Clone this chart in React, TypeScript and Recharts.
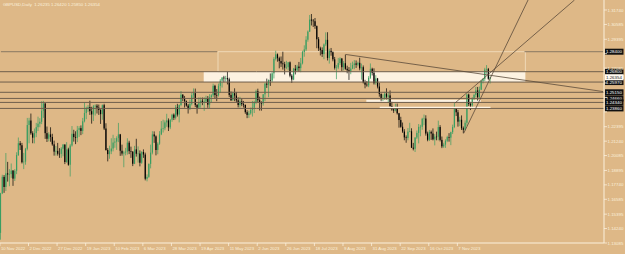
import React from 'react';
import { ComposedChart, Bar, XAxis, YAxis, ReferenceLine, ReferenceArea } from 'recharts';

// ---------- data (GBPUSD, Daily) ----------
const firstOpen = 1.139;

const closes = [
  1.1706, 1.1838, 1.1757, 1.1866, 1.1857, 1.1860, 1.1888, 1.1824, 1.1887, 1.2013,
  1.2107, 1.2091, 1.1955, 1.1960, 1.2063, 1.2253, 1.2289, 1.2187, 1.2152, 1.2188,
  1.2236, 1.2264, 1.2279, 1.2367, 1.2426, 1.2188, 1.2143, 1.2178, 1.2157, 1.2098,
  1.2040, 1.2046, 1.2023, 1.2022, 1.2063, 1.2097, 1.1957, 1.2058, 1.1935, 1.2089,
  1.2183, 1.2156, 1.2150, 1.2214, 1.2228, 1.2206, 1.2283, 1.2349, 1.2390, 1.2397,
  1.2364, 1.2338, 1.2402, 1.2408, 1.2392, 1.2374, 1.2340, 1.2412, 1.2225, 1.2053,
  1.2020, 1.2042, 1.2065, 1.2113, 1.2120, 1.2148, 1.2178, 1.2047, 1.2025, 1.2033,
  1.2040, 1.2112, 1.2044, 1.2039, 1.1943, 1.2058, 1.2023, 1.2025, 1.1951, 1.2037,
  1.2017, 1.1823, 1.1838, 1.1942, 1.2032, 1.2178, 1.2162, 1.2053, 1.2104, 1.2178,
  1.2224, 1.2227, 1.2274, 1.2290, 1.2234, 1.2295, 1.2336, 1.2311, 1.2394, 1.2337,
  1.2413, 1.2496, 1.2464, 1.2444, 1.2409, 1.2382, 1.2423, 1.2492, 1.2508, 1.2414,
  1.2392, 1.2430, 1.2448, 1.2434, 1.2442, 1.2463, 1.2416, 1.2477, 1.2491, 1.2567,
  1.2493, 1.2492, 1.2567, 1.2608, 1.2633, 1.2626, 1.2629, 1.2619, 1.2494, 1.2451,
  1.2508, 1.2489, 1.2451, 1.2413, 1.2443, 1.2420, 1.2414, 1.2356, 1.2334, 1.2346,
  1.2374, 1.2392, 1.2434, 1.2525, 1.2452, 1.2436, 1.2425, 1.2499, 1.2584, 1.2576,
  1.2613, 1.2610, 1.2667, 1.2782, 1.2819, 1.2788, 1.2765, 1.2746, 1.2740, 1.2712,
  1.2716, 1.2755, 1.2648, 1.2617, 1.2704, 1.2690, 1.2721, 1.2709, 1.2747, 1.2838,
  1.2858, 1.2936, 1.3001, 1.3097, 1.3089, 1.3084, 1.3045, 1.2940, 1.2867, 1.2853,
  1.2821, 1.2898, 1.2935, 1.2790, 1.2847, 1.2836, 1.2779, 1.2711, 1.2714, 1.2749,
  1.2785, 1.2716, 1.2748, 1.2703, 1.2692, 1.2685, 1.2705, 1.2733, 1.2746, 1.2736,
  1.2751, 1.2707, 1.2716, 1.2595, 1.2576, 1.2571, 1.2631, 1.2703, 1.2671, 1.2588,
  1.2626, 1.2561, 1.2502, 1.2466, 1.2466, 1.2504, 1.2480, 1.2490, 1.2405, 1.2378,
  1.2369, 1.2393, 1.2347, 1.2293, 1.2239, 1.2201, 1.2154, 1.2149, 1.2200, 1.2203,
  1.2072, 1.2063, 1.2153, 1.2190, 1.2238, 1.2239, 1.2303, 1.2305, 1.2185, 1.2135,
  1.2198, 1.2185, 1.2138, 1.2160, 1.2159, 1.2237, 1.2134, 1.2082, 1.2096, 1.2127,
  1.2157, 1.2152, 1.2196, 1.2237, 1.2381, 1.2355, 1.2280, 1.2295, 1.2227, 1.2215,
  1.2271, 1.2497, 1.2421, 1.2410, 1.2462, 1.2494, 1.2530, 1.2476, 1.2536, 1.2606,
  1.2622, 1.2697, 1.2700, 1.26235, 1.26354,
];

const highs = [
  1.1710, 1.1855, 1.1853, 1.2029, 1.1958, 1.1900, 1.1945, 1.1893, 1.1900, 1.2035,
  1.2153, 1.2125, 1.2110, 1.2030, 1.2070, 1.2310, 1.2311, 1.2345, 1.2203, 1.2225,
  1.2270, 1.2320, 1.2308, 1.2443, 1.2446, 1.2428, 1.2241, 1.2195, 1.2235, 1.2183,
  1.2128, 1.2085, 1.2110, 1.2068, 1.2076, 1.2100, 1.2098, 1.2116, 1.2071, 1.2102,
  1.2245, 1.2215, 1.2203, 1.2246, 1.2244, 1.2250, 1.2310, 1.2434, 1.2400, 1.2413,
  1.2448, 1.2399, 1.2414, 1.2418, 1.2420, 1.2417, 1.2380, 1.2418, 1.2423, 1.2267,
  1.2068, 1.2088, 1.2147, 1.2175, 1.2149, 1.2163, 1.2270, 1.2182, 1.2096, 1.2047,
  1.2070, 1.2147, 1.2127, 1.2080, 1.2045, 1.2086, 1.2143, 1.2082, 1.2050, 1.2044,
  1.2058, 1.2032, 1.1858, 1.1945, 1.2096, 1.2204, 1.2202, 1.2170, 1.2115, 1.2204,
  1.2285, 1.2296, 1.2290, 1.2343, 1.2306, 1.2300, 1.2343, 1.2346, 1.2413, 1.2423,
  1.2418, 1.2525, 1.2500, 1.2486, 1.2450, 1.2422, 1.2457, 1.2509, 1.2546, 1.2545,
  1.2422, 1.2474, 1.2474, 1.2473, 1.2475, 1.2488, 1.2485, 1.2500, 1.2500, 1.2584,
  1.2575, 1.2541, 1.2585, 1.2621, 1.2636, 1.2647, 1.2647, 1.2680, 1.2632, 1.2522,
  1.2520, 1.2547, 1.2518, 1.2475, 1.2479, 1.2466, 1.2446, 1.2417, 1.2372, 1.2367,
  1.2393, 1.2446, 1.2447, 1.2536, 1.2544, 1.2480, 1.2443, 1.2501, 1.2591, 1.2625,
  1.2618, 1.2666, 1.2677, 1.2797, 1.2848, 1.2826, 1.2800, 1.2802, 1.2840, 1.2759,
  1.2767, 1.2758, 1.2762, 1.2660, 1.2710, 1.2734, 1.2735, 1.2758, 1.2790, 1.2848,
  1.2891, 1.2964, 1.3010, 1.3134, 1.3142, 1.3102, 1.3110, 1.3050, 1.2957, 1.2880,
  1.2875, 1.2906, 1.2995, 1.2996, 1.2864, 1.2870, 1.2842, 1.2798, 1.2734, 1.2790,
  1.2796, 1.2790, 1.2765, 1.2818, 1.2728, 1.2717, 1.2751, 1.2761, 1.2773, 1.2770,
  1.2760, 1.2792, 1.2745, 1.2730, 1.2615, 1.2605, 1.2645, 1.2746, 1.2712, 1.2707,
  1.2652, 1.2630, 1.2590, 1.2506, 1.2498, 1.2519, 1.2547, 1.2515, 1.2530, 1.2439,
  1.2394, 1.2424, 1.2425, 1.2350, 1.2319, 1.2273, 1.2220, 1.2170, 1.2229, 1.2271,
  1.2227, 1.2110, 1.2155, 1.2209, 1.2261, 1.2255, 1.2311, 1.2337, 1.2331, 1.2200,
  1.2214, 1.2209, 1.2226, 1.2180, 1.2200, 1.2288, 1.2252, 1.2161, 1.2111, 1.2139,
  1.2167, 1.2188, 1.2200, 1.2256, 1.2428, 1.2396, 1.2374, 1.2319, 1.2330, 1.2241,
  1.2290, 1.2505, 1.2505, 1.2438, 1.2476, 1.2504, 1.2559, 1.2558, 1.2561, 1.2615,
  1.2628, 1.2711, 1.2733, 1.2710, 1.26420,
];

const lows = [
  1.1335, 1.1700, 1.1710, 1.1725, 1.1800, 1.1763, 1.1830, 1.1766, 1.1805, 1.1860,
  1.2005, 1.2053, 1.1945, 1.1900, 1.1935, 1.2050, 1.2107, 1.2175, 1.2107, 1.2106,
  1.2156, 1.2205, 1.2235, 1.2260, 1.2310, 1.2142, 1.2117, 1.2122, 1.2119, 1.2087,
  1.2008, 1.2008, 1.2008, 1.1990, 1.1990, 1.2003, 1.1940, 1.1950, 1.1927, 1.1841,
  1.2080, 1.2120, 1.2100, 1.2116, 1.2158, 1.2172, 1.2180, 1.2274, 1.2300, 1.2358,
  1.2334, 1.2264, 1.2285, 1.2329, 1.2345, 1.2334, 1.2262, 1.2295, 1.2213, 1.2048,
  1.1962, 1.1983, 1.2020, 1.2042, 1.2071, 1.2054, 1.2116, 1.2006, 1.2008, 1.1915,
  1.2010, 1.2016, 1.2020, 1.1990, 1.1924, 1.1940, 1.2000, 1.1952, 1.1922, 1.1942,
  1.1990, 1.1810, 1.1802, 1.1830, 1.1906, 1.2018, 1.2110, 1.2010, 1.2019, 1.2094,
  1.2172, 1.2193, 1.2211, 1.2239, 1.2205, 1.2220, 1.2279, 1.2293, 1.2297, 1.2321,
  1.2274, 1.2403, 1.2444, 1.2393, 1.2400, 1.2345, 1.2373, 1.2410, 1.2468, 1.2397,
  1.2344, 1.2388, 1.2392, 1.2412, 1.2366, 1.2431, 1.2391, 1.2389, 1.2432, 1.2476,
  1.2467, 1.2444, 1.2481, 1.2510, 1.2553, 1.2595, 1.2600, 1.2578, 1.2477, 1.2446,
  1.2448, 1.2444, 1.2432, 1.2394, 1.2392, 1.2404, 1.2393, 1.2343, 1.2308, 1.2310,
  1.2336, 1.2321, 1.2349, 1.2420, 1.2436, 1.2369, 1.2368, 1.2408, 1.2445, 1.2550,
  1.2476, 1.2566, 1.2596, 1.2626, 1.2770, 1.2760, 1.2707, 1.2718, 1.2697, 1.2658,
  1.2700, 1.2690, 1.2635, 1.2590, 1.2612, 1.2658, 1.2686, 1.2680, 1.2676, 1.2738,
  1.2800, 1.2845, 1.2920, 1.2998, 1.3050, 1.3038, 1.3023, 1.2868, 1.2846, 1.2810,
  1.2798, 1.2780, 1.2885, 1.2770, 1.2745, 1.2808, 1.2763, 1.2697, 1.2620, 1.2700,
  1.2734, 1.2686, 1.2690, 1.2695, 1.2667, 1.2614, 1.2660, 1.2700, 1.2700, 1.2710,
  1.2723, 1.2691, 1.2616, 1.2586, 1.2547, 1.2560, 1.2556, 1.2622, 1.2650, 1.2577,
  1.2575, 1.2546, 1.2480, 1.2444, 1.2445, 1.2455, 1.2458, 1.2429, 1.2393, 1.2367,
  1.2350, 1.2362, 1.2337, 1.2232, 1.2231, 1.2190, 1.2131, 1.2111, 1.2131, 1.2195,
  1.2069, 1.2050, 1.2037, 1.2141, 1.2106, 1.2163, 1.2215, 1.2252, 1.2168, 1.2123,
  1.2125, 1.2134, 1.2130, 1.2090, 1.2131, 1.2130, 1.2122, 1.2068, 1.2070, 1.2070,
  1.2116, 1.2120, 1.2092, 1.2181, 1.2228, 1.2325, 1.2240, 1.2244, 1.2213, 1.2187,
  1.2210, 1.2246, 1.2405, 1.2373, 1.2396, 1.2452, 1.2475, 1.2448, 1.2467, 1.2532,
  1.2585, 1.2605, 1.2663, 1.2615, 1.25850,
];

const TOTAL_SLOTS = 338; // bars + empty chart shift on the right

const dateTicks = [0, 16, 32, 48, 64, 80, 96, 112, 128, 144, 160, 176, 192, 208, 224, 240, 256];
const dateLabels = [
  '10 Nov 2022', '2 Dec 2022', '27 Dec 2022', '19 Jan 2023', '10 Feb 2023', '6 Mar 2023',
  '28 Mar 2023', '19 Apr 2023', '11 May 2023', '2 Jun 2023', '26 Jun 2023', '18 Jul 2023',
  '9 Aug 2023', '31 Aug 2023', '22 Sep 2023', '16 Oct 2023', '7 Nov 2023',
];

const priceTicks = [
  1.3174, 1.30585, 1.29395, 1.2824, 1.27085, 1.25895, 1.2474, 1.23585, 1.22395,
  1.2124, 1.20085, 1.18895, 1.1774, 1.16585, 1.15395, 1.1424, 1.13085,
];
const Y_MIN = 1.13085;
const Y_MAX = 1.3254;

const topLevel = 1.284;
const levels = [1.268, 1.2597, 1.2515, 1.2466, 1.2434, 1.2386];
const bidPrice = 1.26354;
const title = 'GBPUSD,Daily  1.26235 1.26420 1.25850 1.26354';

// drawing objects: [bar, price] endpoints
const trendDown = [[193, 1.2818], [337, 1.2521]];
const trendSteep = [[259, 1.2187], [295, Y_MAX]];
const trendMid = [[254, 1.2428], [321, Y_MAX]];

// ---------- styles ----------
const W = 625;
const H = 254;
const BG = '#deb887';
const AXIS = '#fbf0dc';
const UP = '#399e62';
const DOWN = '#000000';
const LEVEL = '#6e5e4c';
const LEVEL_TOP = '#8a7862';
const TREND = '#5a4a3a';
const CREAM = '#fdf2e1';
const OUTLINE = '#f1dcbc';
const FONT = 'Liberation Sans, Arial, sans-serif';

const boxedPrices = [topLevel, ...levels, bidPrice];

const data = Array.from({ length: TOTAL_SLOTS }, (_, i) =>
  i < closes.length
    ? { i, open: i === 0 ? firstOpen : closes[i - 1], high: highs[i], low: lows[i], close: closes[i] }
    : { i }
);

const Candle = (props: any) => {
  const { x, y, width, height, payload } = props;
  if (!payload || payload.high == null) return null;
  const top = Math.min(y, y + height);
  const h = Math.abs(height);
  const { open, close, high, low } = payload;
  const range = high - low || 1e-9;
  const py = (v: number) => top + ((high - v) / range) * h;
  const cx = x + width / 2;
  const color = close >= open ? UP : DOWN;
  const bTop = py(Math.max(open, close));
  const bBot = py(Math.min(open, close));
  return (
    <g>
      <line x1={cx} x2={cx} y1={top} y2={top + h} stroke={color} strokeWidth={0.7} />
      <rect x={cx - 0.6} y={bTop} width={1.2} height={Math.max(0.6, bBot - bTop)} fill={color} />
    </g>
  );
};

const DateTick = (props: any) => {
  const { x, y, payload } = props;
  const idx = dateTicks.indexOf(payload.value);
  return (
    <g>
      <line x1={x - 1} x2={x - 1} y1={y} y2={y + 3} stroke={AXIS} strokeWidth={0.8} />
      <text x={x} y={y + 7} fontSize={4.3} fill={AXIS} fontFamily={FONT}>
        {dateLabels[idx]}
      </text>
    </g>
  );
};

// a tick label that sits under a price box is hidden by it, as on the terminal
const PriceTick = (props: any) => {
  const { x, y, payload } = props;
  const v = Number(payload.value);
  const covered = boxedPrices.some((b) => Math.abs(b - v) < 0.0028);
  return (
    <g>
      <line x1={x} x2={x + 3} y1={y} y2={y} stroke={AXIS} strokeWidth={0.8} />
      {!covered && (
        <text x={x + 3.5} y={y + 1.6} fontSize={4.4} fill={AXIS} fontFamily={FONT}>
          {v.toFixed(5)}
        </text>
      )}
    </g>
  );
};

const PriceBox = (props: any) => {
  const { viewBox, price, fill, color } = props;
  if (!viewBox) return null;
  const yy = viewBox.y;
  const x0 = viewBox.x + viewBox.width + 1;
  return (
    <g>
      <rect x={x0} y={yy - 3} width={18.5} height={6} fill={fill} />
      <text x={x0 + 1} y={yy + 1.6} fontSize={4.4} fill={color} fontFamily={FONT}>
        {price.toFixed(5)}
      </text>
    </g>
  );
};

const seg = (s: number[][]) => s.map(([x, y]) => ({ x, y }));

export default function App() {
  return (
    <div style={{ position: 'absolute', left: 0, top: 0, width: W, height: H, background: BG, overflow: 'hidden' }}>
      <ComposedChart width={W} height={H} data={data} margin={{ top: 0, right: 0, bottom: 0, left: 0 }}>
        <XAxis
          dataKey="i"
          type="category"
          ticks={dateTicks}
          interval={0}
          height={11}
          tick={<DateTick />}
          tickLine={false}
          tickSize={0}
          tickMargin={0}
          axisLine={{ stroke: AXIS, strokeWidth: 1 }}
        />
        <YAxis
          orientation="right"
          width={21}
          type="number"
          domain={[Y_MIN, Y_MAX]}
          allowDataOverflow
          ticks={priceTicks}
          interval={0}
          tick={<PriceTick />}
          tickLine={false}
          tickSize={0}
          tickMargin={0}
          axisLine={{ stroke: AXIS, strokeWidth: 1 }}
        />
        <ReferenceArea x1={114} x2={293} y1={levels[1]} y2={levels[0]} fill={CREAM} fillOpacity={1} stroke="none" ifOverflow="visible" />
        <ReferenceArea x1={205} x2={268} y1={1.2437} y2={1.2455} fill={CREAM} fillOpacity={1} stroke="none" ifOverflow="visible" />
        <Bar
          dataKey={(d: any) => (d.high == null ? null : [d.low, d.high])}
          shape={(p: any) => <Candle {...p} />}
          barSize={1}
          isAnimationActive={false}
        />
        <ReferenceLine segment={seg([[0, topLevel], [121, topLevel]])} stroke={LEVEL_TOP} strokeWidth={1} ifOverflow="visible" />
        <ReferenceLine segment={seg([[293, topLevel], [337, topLevel]])} stroke={LEVEL_TOP} strokeWidth={1} ifOverflow="visible" />
        <ReferenceArea x1={122} x2={293} y1={levels[0]} y2={topLevel} fill="none" stroke={OUTLINE} strokeWidth={0.9} ifOverflow="visible" />
        {levels.map((v) => (
          <ReferenceLine key={v} y={v} stroke={LEVEL} strokeWidth={1} ifOverflow="visible" />
        ))}
        <ReferenceLine segment={seg([[212, 1.2395], [274, 1.2395]])} stroke={CREAM} strokeWidth={1.2} ifOverflow="visible" />
        <ReferenceLine segment={seg(trendDown)} stroke={TREND} strokeWidth={0.8} ifOverflow="visible" />
        <ReferenceLine segment={seg(trendSteep)} stroke={TREND} strokeWidth={0.8} ifOverflow="visible" />
        <ReferenceLine segment={seg(trendMid)} stroke={TREND} strokeWidth={0.8} ifOverflow="visible" />
        {[topLevel, ...levels].map((v) => (
          <ReferenceLine key={'b' + v} y={v} stroke="none" ifOverflow="visible" label={<PriceBox price={v} fill="#111" color="#ffffff" />} />
        ))}
        <ReferenceLine y={bidPrice} stroke="none" ifOverflow="visible" label={<PriceBox price={bidPrice} fill="#fffaf2" color="#222" />} />
      </ComposedChart>
      <div
        style={{
          position: 'absolute',
          left: 3,
          top: 2,
          fontSize: 4.3,
          lineHeight: '5px',
          color: AXIS,
          fontFamily: FONT,
          whiteSpace: 'pre',
        }}
      >
        {title}
      </div>
    </div>
  );
}
